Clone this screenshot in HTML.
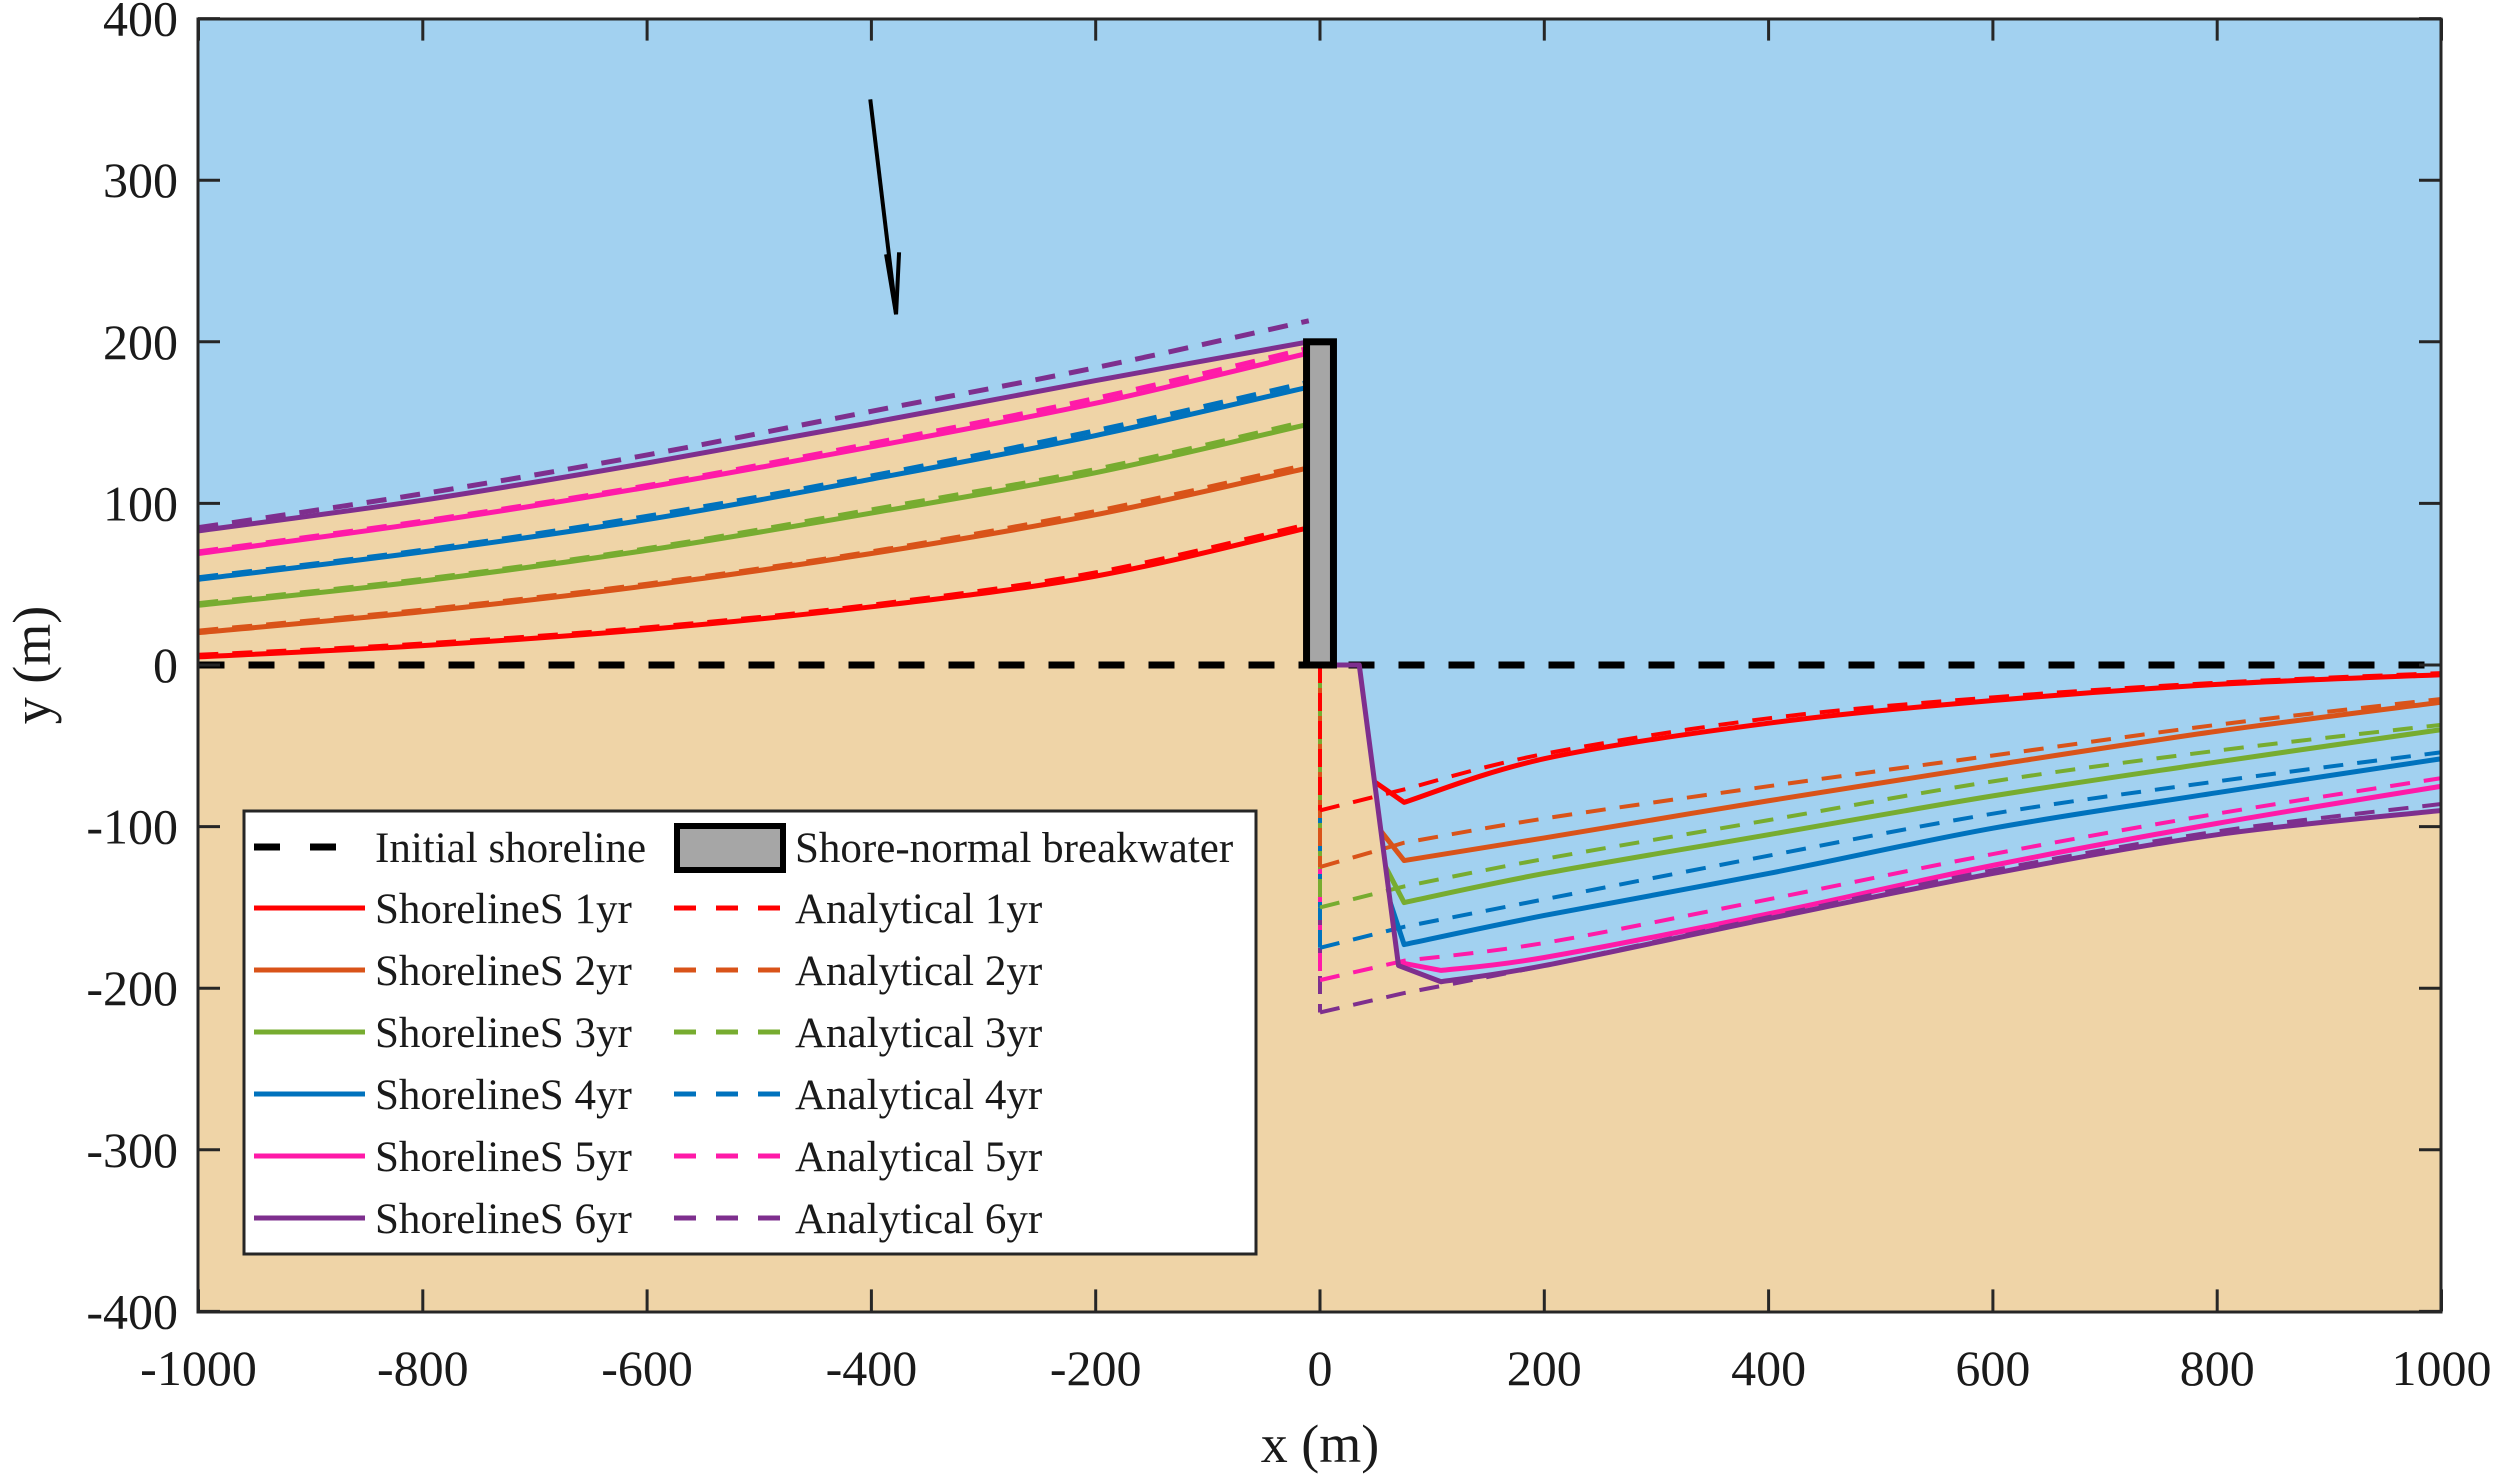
<!DOCTYPE html>
<html><head><meta charset="utf-8">
<style>
html,body{margin:0;padding:0;background:#fff;}
svg{display:block;}
text{font-family:"Liberation Serif",serif;fill:#1a1a1a;}
</style></head>
<body>
<svg id="chart" width="2500" height="1477" viewBox="0 0 2500 1477" xmlns="http://www.w3.org/2000/svg">
<defs><clipPath id="plotclip"><rect x="198" y="19" width="2243" height="1293"/></clipPath></defs>
<g id="plot" clip-path="url(#plotclip)"></g>
<g id="axes"></g>
<g id="legend"></g>
</svg>
<script>
const NS="http://www.w3.org/2000/svg";
// ---- data ----
const xTicks=[-1000,-800,-600,-400,-200,0,200,400,600,800,1000];
const yTicks=[400,300,200,100,0,-100,-200,-300,-400];
const years=["1yr","2yr","3yr","4yr","5yr","6yr"];
const colors=["#FF0000","#D95319","#77AC30","#0072BD","#FF1AA8","#7E2F8E"];
const leftX=[-1000,-800,-600,-400,-200,-10];
const leftSim1=[5,12,22,36,55,85];
const leftSim2=[20,33,49,69,93,122];
const leftSim3=[37,52,71,94,119,149];
const leftSim4=[53,70,90,115,142,172];
const leftSim5=[69,88,110,135,162,193];
const leftSim6=[83,102,125,150,176,200];
const leftAna1=[6,13,23,37,57,87];
const leftAna2=[21,34,50,70,95,124];
const leftAna3=[38,53,72,96,121,151];
const leftAna4=[54,71,92,117,145,175];
const leftAna5=[70,89,111,137,165,196];
const leftAna6=[85,106,130,157,184,213];
const rightX=[75,200,400,600,800,1000];
const rightSim1=[-85,-58,-36,-22,-12,-6];
const rightSim2=[-121,-107,-84,-62,-41,-23];
const rightSim3=[-147,-129,-105,-81,-60,-40];
const rightSim4=[-173,-155,-129,-101,-79,-58];
const rightSim5=[-189,-181,-154,-124,-98,-75];
const rightSim6=[-196,-186,-157,-129,-105,-90];
const anaX=[0,75,200,400,600,800,1000];
const rightAna1=[-90,-77,-55,-33,-20,-11,-5];
const rightAna2=[-125,-110,-95,-75,-56,-37,-21];
const rightAna3=[-150,-137,-120,-96,-72,-53,-37];
const rightAna4=[-175,-162,-145,-118,-92,-72,-54];
const rightAna5=[-195,-183,-172,-145,-117,-92,-70];
const rightAna6=[-215,-203,-186,-156,-127,-103,-86];
const leftSim=[leftSim1,leftSim2,leftSim3,leftSim4,leftSim5,leftSim6];
const leftAna=[leftAna1,leftAna2,leftAna3,leftAna4,leftAna5,leftAna6];
const rightSim=[rightSim1,rightSim2,rightSim3,rightSim4,rightSim5,rightSim6];
const rightAna=[rightAna1,rightAna2,rightAna3,rightAna4,rightAna5,rightAna6];
const steepTop=[35,0], steepBottom=[70,-186];
const breakwater={x0:-12,x1:12,y0:0,y1:200};
const arrowFrom=[-401,350], arrowTo=[-378,217];
// ---- axis functions ----
const X=x=>1320+x*1.1215;
const Y=y=>665-y*1.616;
function el(tag,attrs,parent){const e=document.createElementNS(NS,tag);for(const k in attrs)e.setAttribute(k,attrs[k]);parent.appendChild(e);return e;}
function smooth(pts){ // catmull-rom
  let d=`M${pts[0][0]},${pts[0][1]}`;
  for(let i=0;i<pts.length-1;i++){const p0=pts[i-1]||pts[i],p1=pts[i],p2=pts[i+1],p3=pts[i+2]||p2;
    d+=` C${p1[0]+(p2[0]-p0[0])/6},${p1[1]+(p2[1]-p0[1])/6} ${p2[0]-(p3[0]-p1[0])/6},${p2[1]-(p3[1]-p1[1])/6} ${p2[0]},${p2[1]}`;}
  return d;}
function steepX(y){return steepTop[0]+(steepBottom[0]-steepTop[0])*(y/steepBottom[1]);}
const plot=document.getElementById('plot');
const axes=document.getElementById('axes');
const legend=document.getElementById('legend');
// background
const sky=el('rect',{x:198,y:19,width:2243,height:1293,fill:'#A2D1F0'},plot);


const l6=leftX.map((x,i)=>[X(x),Y(leftSim6[i])]);
let sandD=smooth(l6)+` L${X(0)},${Y(breakwater.y1)} L${X(0)},${Y(0)} L${X(steepTop[0])},${Y(0)} L${X(steepBottom[0])},${Y(steepBottom[1])} `;
const r6=rightX.map((x,i)=>[X(x),Y(rightSim6[i])]);
r6[0]=[X(108),Y(rightSim6[0])];
sandD+=smooth(r6).replace(/^M/,'L')+` L${X(1000)},${Y(-400)} L${X(-1000)},${Y(-400)} Z`;
const sand=el('path',{d:sandD,fill:'#EFD4A7'},plot);


// initial shoreline
const init=el('line',{x1:X(-1000),y1:Y(0),x2:X(1000),y2:Y(0),stroke:'#000','stroke-width':7,'stroke-dasharray':'26,24'},plot);


// analytical vertical at x=0
for(let k=5;k>=0;k--){
  const v=el('line',{x1:X(0),y1:Y(0),x2:X(0),y2:Y(rightAna[k][0]),stroke:colors[k],'stroke-width':4,'stroke-dasharray':'18,10','stroke-dashoffset':k*5},plot);
  
  
}
for(let k=0;k<6;k++){
  // left analytical
  const la=el('path',{d:smooth(leftX.map((x,i)=>[X(x),Y(leftAna[k][i])])),fill:'none',stroke:colors[k],'stroke-width':5,'stroke-dasharray':'20,14'},plot);
  
  
  // left sim
  const ls=el('path',{d:smooth(leftX.map((x,i)=>[X(x),Y(leftSim[k][i])])),fill:'none',stroke:colors[k],'stroke-width':5},plot);
  
  
  // right analytical
  const ap=anaX.map((x,i)=>[X(x),Y(rightAna[k][i])]);
  const ra=el('path',{d:`M${ap[0][0]},${ap[0][1]} L${ap[1][0]},${ap[1][1]} `+smooth(ap.slice(1)).replace(/^M[^ ]+ /,''),fill:'none',stroke:colors[k],'stroke-width':4,'stroke-dasharray':'20,14'},plot);
  
  
  // right sim
  const m=rightSim[k][0];
  const sp=rightX.map((x,i)=>[X(x),Y(rightSim[k][i])]);
  let d;
  if(k===5){d=`M${X(0)},${Y(0)} L${X(steepTop[0])},${Y(0)} L${X(steepBottom[0])},${Y(steepBottom[1])} L${X(108)},${Y(m)} `;sp[0]=[X(108),Y(m)];d+=smooth(sp).replace(/^M[^ ]+ /,'');}
  else if(k===4){const ys=-184;d=`M${X(steepX(ys))},${Y(ys)} L${X(108)},${Y(m)} `;sp[0]=[X(108),Y(m)];d+=smooth(sp).replace(/^M[^ ]+ /,'');}
  else{const ys=m*0.85;d=`M${X(steepX(ys))},${Y(ys)} L${sp[0][0]},${sp[0][1]} `+smooth(sp).replace(/^M[^ ]+ /,'');}
  const rs=el('path',{d:d,fill:'none',stroke:colors[k],'stroke-width':5,'stroke-linejoin':'round'},plot);
  
  
}
// breakwater
const bw=el('rect',{x:X(breakwater.x0),y:Y(breakwater.y1),width:X(breakwater.x1)-X(breakwater.x0),height:Y(breakwater.y0)-Y(breakwater.y1),fill:'#A6A6A6',stroke:'#000','stroke-width':7},plot);


// arrow
const ar=el('line',{x1:X(arrowFrom[0]),y1:Y(arrowFrom[1]),x2:X(arrowTo[0]),y2:Y(arrowTo[1]),stroke:'#000','stroke-width':4},plot);


const ah=el('path',{d:`M${X(arrowTo[0])-10},${Y(arrowTo[1])-60} L${X(arrowTo[0])},${Y(arrowTo[1])} L${X(arrowTo[0])+3},${Y(arrowTo[1])-62}`,fill:'none',stroke:'#000','stroke-width':4},plot);


// axes box
const box=el('rect',{x:198,y:19,width:2243,height:1293,fill:'none',stroke:'#262626','stroke-width':3},axes);


xTicks.forEach(t=>{
  el('line',{x1:X(t),y1:Y(-400),x2:X(t),y2:Y(-400)-22,stroke:'#262626','stroke-width':3},axes);
  el('line',{x1:X(t),y1:Y(400),x2:X(t),y2:Y(400)+22,stroke:'#262626','stroke-width':3},axes);
  const tx=el('text',{x:X(t),y:1385,'text-anchor':'middle','font-size':50},axes);
  tx.textContent=t;
  
  
});
yTicks.forEach(t=>{
  el('line',{x1:198,y1:Y(t),x2:220,y2:Y(t),stroke:'#262626','stroke-width':3},axes);
  el('line',{x1:2441,y1:Y(t),x2:2419,y2:Y(t),stroke:'#262626','stroke-width':3},axes);
  const ty=el('text',{x:178,y:Y(t)+17,'text-anchor':'end','font-size':50},axes);
  ty.textContent=t;
  
  
});
const xl=el('text',{x:1320,y:1462,'text-anchor':'middle','font-size':54},axes);
xl.textContent='x (m)';


const yl=el('text',{x:0,y:0,'text-anchor':'middle','font-size':54,transform:'translate(50,665) rotate(-90)'},axes);
yl.textContent='y (m)';


// legend
const lb=el('rect',{x:244,y:811,width:1012,height:443,fill:'#fff',stroke:'#262626','stroke-width':3},legend);


const rowY=[847,908,970,1032,1094,1156,1218];
el('line',{x1:254,y1:rowY[0],x2:345,y2:rowY[0],stroke:'#000','stroke-width':7,'stroke-dasharray':'26,30'},legend);
const t0=el('text',{x:375,y:rowY[0]+15,'font-size':43},legend);
t0.textContent='Initial shoreline';


el('rect',{x:677,y:826,width:106,height:44,fill:'#A6A6A6',stroke:'#000','stroke-width':6},legend);
const t1=el('text',{x:795,y:rowY[0]+15,'font-size':43},legend);
t1.textContent='Shore-normal breakwater';


for(let k=0;k<6;k++){
  const y=rowY[k+1];
  el('line',{x1:254,y1:y,x2:365,y2:y,stroke:colors[k],'stroke-width':5},legend);
  const a=el('text',{x:375,y:y+15,'font-size':43},legend);
  a.textContent='ShorelineS '+years[k];
  
  
  el('line',{x1:674,y1:y,x2:784,y2:y,stroke:colors[k],'stroke-width':5,'stroke-dasharray':'22,20'},legend);
  const b=el('text',{x:795,y:y+15,'font-size':43},legend);
  b.textContent='Analytical '+years[k];
  
  
}
</script>
</body></html>
